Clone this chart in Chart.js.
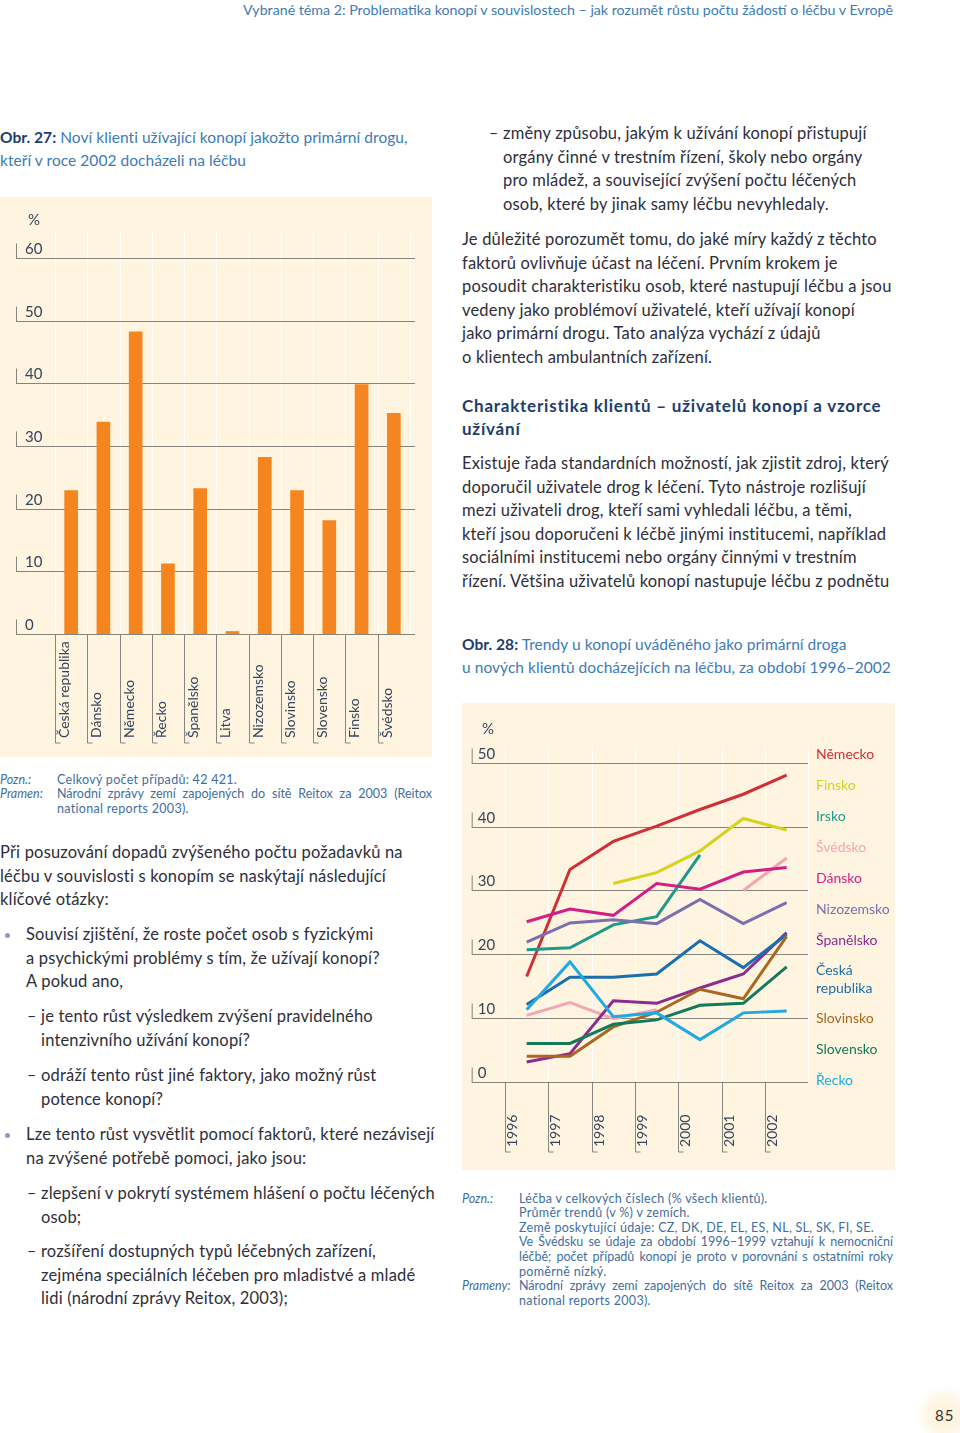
<!DOCTYPE html>
<html lang="cs">
<head>
<meta charset="utf-8">
<script src="https://cdn.jsdelivr.net/npm/chart.js"></script>
<style>
  body { margin: 0; width: 960px; height: 1433px; position: relative; overflow: hidden;
         background: #fff; font-family: Lato, "Noto Sans", sans-serif; color: #2e2e3a; }
  .abs { position: absolute; }
  .t div { height: 23.5px; line-height: 23.5px; white-space: nowrap; font-size: 16.5px; letter-spacing: 0.18px; }
  .cap div { height: 23px; line-height: 23px; white-space: nowrap; font-size: 15.5px; letter-spacing: 0.05px; color: #3c7bb6; }
  .cap b { color: #1d3d6b; }
  .head div { height: 23px; line-height: 23px; white-space: nowrap; font-size: 17px; font-weight: bold; color: #1d3d6b; letter-spacing: 0.78px; }
  .mark { position: absolute; left: -14px; }
  .dot { position: absolute; left: -21px; top: 10px; width: 5px; height: 5px; border-radius: 50%; background: #8e9cc6; }
  .notes { font-size: 12.5px; color: #3f6e9e; letter-spacing: 0.3px; }
  .notes .row { display: flex; height: 14.6px; line-height: 14.6px; }
  .notes .lab { font-style: italic; flex: none; letter-spacing: 0; }
  .notes .txt { white-space: nowrap; }
  .notes .just { text-align: justify; text-align-last: justify; white-space: normal; letter-spacing: 0; }
  .panel { position: absolute; background: #fef4e0; }
  #legend div { font-size: 14px; line-height: 31px; height: 31px; white-space: nowrap; }
</style>
</head>
<body>

<div id="header" class="abs" style="right:67px; top:1px; font-size:14px; line-height:18px; color:#3c7bb6; white-space:nowrap; transform-origin:right center;">Vybrané téma 2: Problematika konopí v souvislostech – jak rozumět růstu počtu žádostí o léčbu v Evropě</div>

<div class="abs cap" style="left:0; top:126px;">
  <div><b>Obr. 27:</b> Noví klienti užívající konopí jakožto primární drogu,</div>
  <div>kteří v roce 2002 docházeli na léčbu</div>
</div>

<div class="panel" style="left:0; top:197px; width:432px; height:560px;">
  <canvas id="barChart" width="432" height="560"></canvas>
</div>

<div class="abs notes" style="left:0; top:772.6px; width:432px;">
  <div class="row"><span class="lab" style="width:57px">Pozn.:</span><span class="txt">Celkový počet případů: 42 421.</span></div>
  <div class="row"><span class="lab" style="width:57px">Pramen:</span><span class="txt just" style="width:375px">Národní zprávy zemí zapojených do sítě Reitox za 2003 (Reitox</span></div>
  <div class="row"><span class="lab" style="width:57px"></span><span class="txt">national reports 2003).</span></div>
</div>

<div class="abs t" style="left:0; top:841px;">
  <div>Při posuzování dopadů zvýšeného počtu požadavků na</div>
  <div>léčbu v souvislosti s konopím se naskýtají následující</div>
  <div>klíčové otázky:</div>
</div>
<div class="abs t" style="left:26px; top:923px;">
  <span class="dot"></span>
  <div>Souvisí zjištění, že roste počet osob s fyzickými</div>
  <div>a psychickými problémy s tím, že užívají konopí?</div>
  <div>A pokud ano,</div>
</div>
<div class="abs t" style="left:41px; top:1005px;">
  <span class="mark">–</span>
  <div>je tento růst výsledkem zvýšení pravidelného</div>
  <div>intenzivního užívání konopí?</div>
</div>
<div class="abs t" style="left:41px; top:1064px;">
  <span class="mark">–</span>
  <div>odráží tento růst jiné faktory, jako možný růst</div>
  <div>potence konopí?</div>
</div>
<div class="abs t" style="left:26px; top:1123px;">
  <span class="dot"></span>
  <div>Lze tento růst vysvětlit pomocí faktorů, které nezávisejí</div>
  <div>na zvýšené potřebě pomoci, jako jsou:</div>
</div>
<div class="abs t" style="left:41px; top:1182px;">
  <span class="mark">–</span>
  <div>zlepšení v pokrytí systémem hlášení o počtu léčených</div>
  <div>osob;</div>
</div>
<div class="abs t" style="left:41px; top:1240px;">
  <span class="mark">–</span>
  <div>rozšíření dostupných typů léčebných zařízení,</div>
  <div>zejména speciálních léčeben pro mladistvé a mladé</div>
  <div>lidi (národní zprávy Reitox, 2003);</div>
</div>

<div class="abs t" style="left:503px; top:122px;">
  <span class="mark">–</span>
  <div>změny způsobu, jakým k užívání konopí přistupují</div>
  <div>orgány činné v trestním řízení, školy nebo orgány</div>
  <div>pro mládež, a související zvýšení počtu léčených</div>
  <div>osob, které by jinak samy léčbu nevyhledaly.</div>
</div>
<div class="abs t" style="left:462px; top:228px;">
  <div>Je důležité porozumět tomu, do jaké míry každý z těchto</div>
  <div>faktorů ovlivňuje účast na léčení. Prvním krokem je</div>
  <div>posoudit charakteristiku osob, které nastupují léčbu a jsou</div>
  <div>vedeny jako problémoví uživatelé, kteří užívají konopí</div>
  <div>jako primární drogu. Tato analýza vychází z údajů</div>
  <div>o klientech ambulantních zařízení.</div>
</div>
<div class="abs head" style="left:462px; top:393.5px;">
  <div>Charakteristika klientů – uživatelů konopí a vzorce</div>
  <div>užívání</div>
</div>
<div class="abs t" style="left:462px; top:452px;">
  <div>Existuje řada standardních možností, jak zjistit zdroj, který</div>
  <div>doporučil uživatele drog k léčení. Tyto nástroje rozlišují</div>
  <div>mezi uživateli drog, kteří sami vyhledali léčbu, a těmi,</div>
  <div>kteří jsou doporučeni k léčbě jinými institucemi, například</div>
  <div>sociálními institucemi nebo orgány činnými v trestním</div>
  <div>řízení. Většina uživatelů konopí nastupuje léčbu z podnětu</div>
</div>
<div class="abs cap" style="left:462px; top:632.5px;">
  <div><b>Obr. 28:</b> Trendy u konopí uváděného jako primární droga</div>
  <div>u nových klientů docházejících na léčbu, za období 1996–2002</div>
</div>

<div class="panel" style="left:462px; top:703px; width:433px; height:467px;">
  <canvas id="lineChart" width="433" height="467"></canvas>
  <div id="legend" class="abs" style="left:354px; top:34.5px;"></div>
</div>

<div class="abs notes" style="left:462px; top:1191.7px; width:432px;">
  <div class="row"><span class="lab" style="width:57px">Pozn.:</span><span class="txt">Léčba v celkových číslech (% všech klientů).</span></div>
  <div class="row"><span class="lab" style="width:57px"></span><span class="txt">Průměr trendů (v %) v zemích.</span></div>
  <div class="row"><span class="lab" style="width:57px"></span><span class="txt">Země poskytující údaje: CZ, DK, DE, EL, ES, NL, SL, SK, FI, SE.</span></div>
  <div class="row"><span class="lab" style="width:57px"></span><span class="txt just" style="width:374px">Ve Švédsku se údaje za období 1996–1999 vztahují k nemocniční</span></div>
  <div class="row"><span class="lab" style="width:57px"></span><span class="txt just" style="width:374px">léčbě; počet případů konopí je proto v porovnání s ostatními roky</span></div>
  <div class="row"><span class="lab" style="width:57px"></span><span class="txt">poměrně nízký.</span></div>
  <div class="row"><span class="lab" style="width:57px">Prameny:</span><span class="txt just" style="width:374px">Národní zprávy zemí zapojených do sítě Reitox za 2003 (Reitox</span></div>
  <div class="row"><span class="lab" style="width:57px"></span><span class="txt">national reports 2003).</span></div>
</div>

<div class="abs" style="left:915px; top:1385px; width:60px; height:60px; border-radius:50%;
     background: radial-gradient(circle, #fdf0d6 0%, rgba(253,240,214,0.6) 40%, rgba(255,255,255,0) 70%);"></div>
<div class="abs" style="left:935px; top:1405px; font-size:15px; line-height:20px; color:#333; letter-spacing:1px;">85</div>

<script>
// Obr. 27 – noví klienti (konopí jako primární droga), 2002, %
const barCategories = ['Česká republika', 'Dánsko', 'Německo', 'Řecko', 'Španělsko', 'Litva',
                       'Nizozemsko', 'Slovinsko', 'Slovensko', 'Finsko', 'Švédsko'];
const barValues = [22.9, 33.8, 48.2, 11.2, 23.2, 0.4, 28.2, 22.9, 18.1, 39.8, 35.2];
const barTicks = [0, 10, 20, 30, 40, 50, 60];

// Obr. 28 – trendy 1996–2002, %
const years = ['1996', '1997', '1998', '1999', '2000', '2001', '2002'];
const lineTicks = [0, 10, 20, 30, 40, 50];
const nemecko    = [16.5, 33.3, 37.7, 40.1, 42.7, 45.1, 48.1];
const finsko     = [null, null, 31.1, 32.8, 36.2, 41.3, 39.5];
const irsko      = [20.7, 21.0, 24.6, 25.9, 35.6, null, null];
const svedsko    = [10.4, 12.4, 9.9, 11.3, null, 30.0, 35.1];
const dansko     = [25.1, 27.1, 26.1, 31.1, 30.2, 32.9, 33.6];
const nizozemsko = [21.9, 24.9, 25.4, 24.8, 28.6, 24.8, 28.1];
const spanelsko  = [3.1, 4.4, 12.7, 12.3, 14.7, 16.9, 23.4];
const ceska      = [12.1, 16.4, 16.4, 16.9, 22.1, 17.9, 23.1];
const slovinsko  = [4.0, 4.0, 8.6, 10.9, 14.5, 13.0, 22.8];
const slovensko  = [6.0, 6.0, 9.0, 9.7, 12.0, 12.3, 18.0];
const recko      = [11.3, 18.8, 10.2, 10.8, 6.6, 10.8, 11.1];

const seriesNames  = ['Německo', 'Finsko', 'Irsko', 'Švédsko', 'Dánsko', 'Nizozemsko',
                      'Španělsko', 'Česká republika', 'Slovinsko', 'Slovensko', 'Řecko'];
const seriesValues = [nemecko, finsko, irsko, svedsko, dansko, nizozemsko,
                      spanelsko, ceska, slovinsko, slovensko, recko];
const seriesColors = ['#cf2f36', '#d6d21e', '#1e9a8c', '#f2a7b4', '#d21f86', '#7b70ad',
                      '#8b2c8e', '#1a6fae', '#a9671f', '#147a5c', '#22a9e2'];

const GRID = '#86867f';
const LABEL = '#34445e';

// gridlines, y labels with little brackets, rotated x labels – the page style
function decor(cfg) {
    return {
        id: 'decor',
        beforeDatasetsDraw(chart) {
            const { ctx, chartArea: a, scales: { x, y } } = chart;
            const labels = chart.data.labels;
            const band = (a.right - a.left) / labels.length;
            ctx.save();

            // faint band separators in the background
            ctx.strokeStyle = 'rgba(255,255,255,0.85)';
            ctx.lineWidth = 1;
            for (let i = 0; i <= labels.length; i++) {
                const bx = Math.round(a.left + i * band) + 0.5;
                ctx.beginPath();
                ctx.moveTo(bx, cfg.sepTop);
                ctx.lineTo(bx, a.bottom);
                ctx.stroke();
            }

            ctx.font = '15px Lato';
            ctx.textBaseline = 'middle';
            ctx.textAlign = 'left';
            cfg.ticks.forEach(t => {
                const py = Math.round(y.getPixelForValue(t)) + 0.5;
                ctx.strokeStyle = GRID;
                ctx.lineWidth = 1.2;
                ctx.beginPath();
                ctx.moveTo(cfg.gridLeft, py);
                ctx.lineTo(cfg.gridRight, py);
                ctx.stroke();
                ctx.lineWidth = 1;
                ctx.beginPath();
                ctx.moveTo(cfg.gridLeft + 0.5, py);
                ctx.lineTo(cfg.gridLeft + 0.5, py - 15);
                ctx.stroke();
                ctx.fillStyle = LABEL;
                ctx.fillText(String(t), cfg.gridLeft + cfg.labelGap, py - 9);
            });
            ctx.fillText('%', cfg.pctX, cfg.pctY);

            ctx.font = '14px Lato';
            labels.forEach((lab, i) => {
                const bx = Math.round(x.getPixelForValue(i) - band / 2) + 0.5;
                ctx.strokeStyle = GRID;
                ctx.lineWidth = 1;
                ctx.beginPath();
                ctx.moveTo(bx, a.bottom);
                ctx.lineTo(bx, cfg.bracketBottom);
                ctx.lineTo(bx + 5, cfg.bracketBottom);
                ctx.stroke();
                ctx.save();
                ctx.translate(bx + cfg.labelDx, cfg.labelBottom);
                ctx.rotate(-Math.PI / 2);
                ctx.fillStyle = LABEL;
                ctx.fillText(lab, 0, 0);
                ctx.restore();
            });
            ctx.restore();
        }
    };
}

new Chart(document.getElementById('barChart').getContext('2d'), {
    type: 'bar',
    data: {
        labels: barCategories,
        datasets: [{
            data: barValues,
            backgroundColor: '#f5861f',
            barThickness: 13
        }]
    },
    options: {
        responsive: false,
        animation: false,
        layout: { padding: { left: 55, right: 22, top: 61, bottom: 123 } },
        plugins: { legend: { display: false }, tooltip: { enabled: false } },
        scales: {
            x: { display: false },
            y: { display: false, min: 0, max: 60 }
        }
    },
    plugins: [decor({
        ticks: barTicks, gridLeft: 16, gridRight: 415, labelGap: 9,
        pctX: 28, pctY: 23, sepTop: 35,
        bracketBottom: 546, labelBottom: 541, labelDx: 9
    })]
});

new Chart(document.getElementById('lineChart').getContext('2d'), {
    type: 'line',
    data: {
        labels: years,
        datasets: seriesNames.map((name, i) => ({
            label: name,
            data: seriesValues[i],
            borderColor: seriesColors[i],
            borderWidth: 3,
            pointRadius: 0,
            tension: 0,
            spanGaps: false
        })).reverse()
    },
    options: {
        responsive: false,
        animation: false,
        layout: { padding: { left: 43, right: 86.7, top: 60, bottom: 88.3 } },
        plugins: { legend: { display: false }, tooltip: { enabled: false } },
        scales: {
            x: { display: false, offset: true },
            y: { display: false, min: 0, max: 50 }
        }
    },
    plugins: [decor({
        ticks: lineTicks, gridLeft: 9.7, gridRight: 346, labelGap: 6,
        pctX: 20, pctY: 26, sepTop: 43,
        bracketBottom: 449, labelBottom: 444, labelDx: 7
    })]
});

// legend as coloured names, same order as in the figure
const legend = document.getElementById('legend');
seriesNames.forEach((name, i) => {
    const d = document.createElement('div');
    d.style.color = seriesColors[i];
    if (name.includes(' ')) {
        d.innerHTML = name.replace(' ', '<br>');
        d.style.lineHeight = '18px';
        d.style.height = '47px';
        d.style.paddingTop = '6px';
        d.style.boxSizing = 'border-box';
    } else {
        d.textContent = name;
    }
    legend.appendChild(d);
});

// squeeze the running header to its printed width
const header = document.getElementById('header');
header.style.transform = 'scaleX(' + (650 / header.scrollWidth) + ')';
</script>
</body>
</html>
